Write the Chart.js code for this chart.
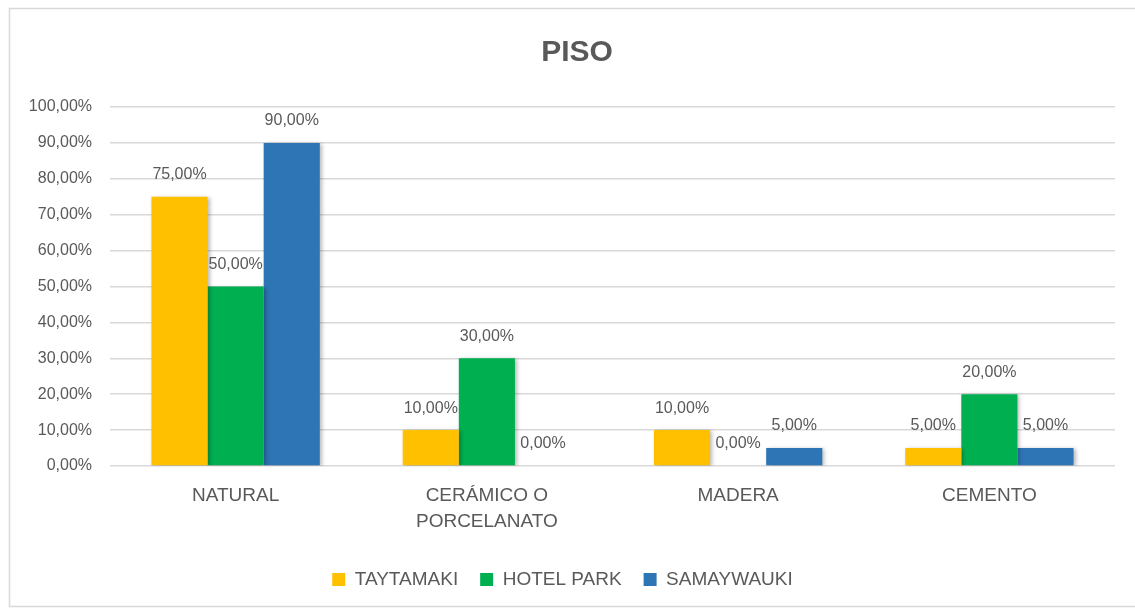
<!DOCTYPE html>
<html>
<head>
<meta charset="utf-8">
<script src="https://cdn.jsdelivr.net/npm/chart.js@4/dist/chart.umd.min.js"></script>
<style>
  html, body { margin: 0; background: #fff; }
  #wrap { width: 1135px; height: 609px; position: relative; }
</style>
</head>
<body>
<div id="wrap"><canvas id="pisoChart"></canvas></div>
<script>
// datos
var categorias = ['NATURAL', ['CERÁMICO O', 'PORCELANATO'], 'MADERA', 'CEMENTO'];
var taytamaki = [75, 10, 10, 5];
var hotelPark = [50, 30, 0, 20];
var samaywauki = [90, 0, 5, 5];
var ticksY = [0, 10, 20, 30, 40, 50, 60, 70, 80, 90, 100];
var titulo = 'PISO';

var gris = '#595959';
var fuente = "'Liberation Sans', Arial, sans-serif";

function pct(v) {
  return v.toFixed(2).replace('.', ',') + '%';
}

// marco exterior y titulo (centrado en el marco, no en el area util)
var marco = {
  id: 'marco',
  beforeDraw: function(chart) {
    var ctx = chart.ctx;
    ctx.save();
    ctx.fillStyle = '#fff';
    ctx.fillRect(0, 0, chart.width, chart.height);
    ctx.strokeStyle = '#d9d9d9';
    ctx.lineWidth = 1.5;
    ctx.strokeRect(9.5, 8.5, 1140, 598);
    ctx.fillStyle = gris;
    ctx.font = 'bold 30px ' + fuente;
    ctx.textAlign = 'center';
    ctx.textBaseline = 'middle';
    ctx.fillText(titulo, 577, 53);
    ctx.restore();
  }
};

// sombra suave de las barras
var sombra = {
  id: 'sombra',
  beforeDatasetsDraw: function(chart) {
    var ctx = chart.ctx;
    ctx.save();
    ctx.shadowColor = 'rgba(0,0,0,0.28)';
    ctx.shadowBlur = 4;
    ctx.shadowOffsetX = 2;
    ctx.shadowOffsetY = 1;
  },
  afterDatasetsDraw: function(chart) {
    chart.ctx.restore();
  }
};

// etiquetas encima de cada barra
var etiquetas = {
  id: 'etiquetas',
  afterDatasetsDraw: function(chart) {
    var ctx = chart.ctx;
    ctx.save();
    ctx.font = '16px ' + fuente;
    ctx.fillStyle = gris;
    ctx.textAlign = 'center';
    ctx.textBaseline = 'middle';
    chart.data.datasets.forEach(function(ds, i) {
      var meta = chart.getDatasetMeta(i);
      meta.data.forEach(function(bar, j) {
        ctx.fillText(pct(ds.data[j]), bar.x, bar.y - 22);
      });
    });
    ctx.restore();
  }
};

var ctx = document.getElementById('pisoChart').getContext('2d');
var grafico = new Chart(ctx, {
  type: 'bar',
  data: {
    labels: categorias,
    datasets: [
      { label: 'TAYTAMAKI', data: taytamaki, backgroundColor: '#FFC000' },
      { label: 'HOTEL PARK', data: hotelPark, backgroundColor: '#00B050' },
      { label: 'SAMAYWAUKI', data: samaywauki, backgroundColor: '#2E75B6' }
    ]
  },
  options: {
    responsive: true,
    maintainAspectRatio: false,
    animation: false,
    layout: { padding: { left: 10, right: 20, top: 107, bottom: 10 } },
    datasets: {
      bar: { barPercentage: 1, categoryPercentage: 0.67 }
    },
    plugins: {
      title: { display: false },
      legend: {
        position: 'bottom',
        labels: {
          color: gris,
          font: { family: fuente, size: 19 },
          boxWidth: 13,
          boxHeight: 13,
          padding: 22
        }
      },
      tooltip: { enabled: false }
    },
    scales: {
      x: {
        grid: { display: false },
        border: { display: false },
        ticks: {
          color: gris,
          font: { family: fuente, size: 19, lineHeight: 1.4 },
          padding: 8,
          maxRotation: 0
        },
        afterFit: function(s) { s.height = 82; }
      },
      y: {
        min: 0,
        max: 100,
        afterBuildTicks: function(s) {
          s.ticks = ticksY.map(function(v) { return { value: v }; });
        },
        grid: { color: '#d9d9d9', lineWidth: 1.5, drawTicks: false },
        border: { display: false },
        ticks: {
          color: gris,
          font: { family: fuente, size: 16 },
          padding: 18,
          callback: function(v) { return pct(v); }
        },
        afterFit: function(s) { s.width = 100; }
      }
    }
  },
  plugins: [marco, sombra, etiquetas]
});
</script>
</body>
</html>
